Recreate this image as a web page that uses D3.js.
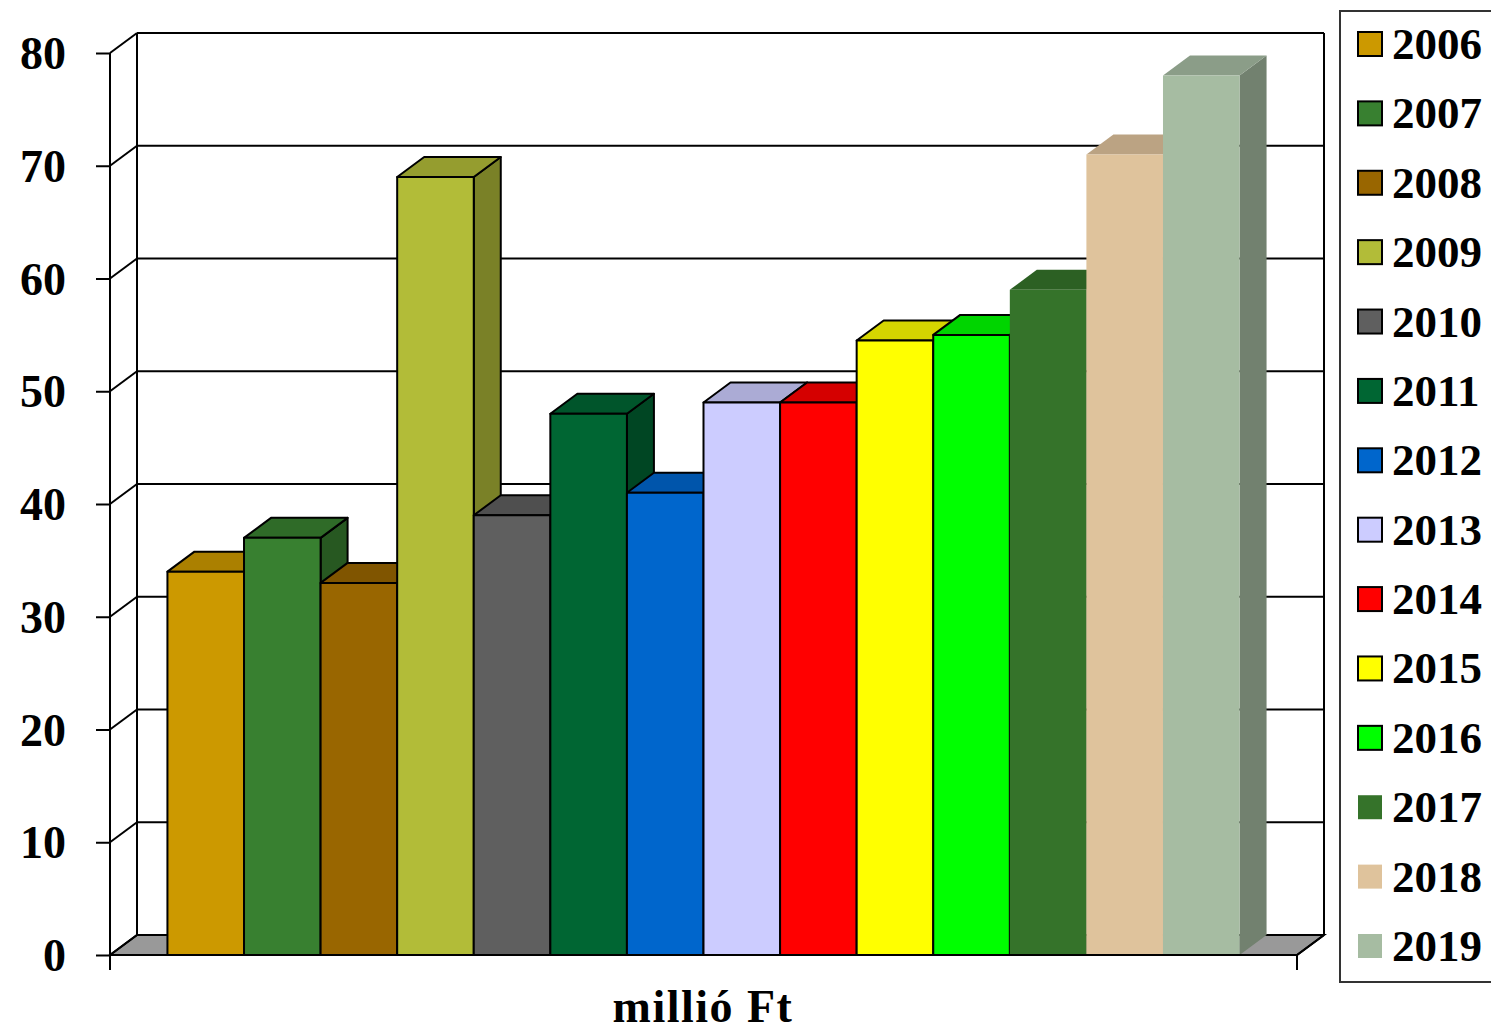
<!DOCTYPE html>
<html>
<head>
<meta charset="utf-8">
<script src="https://cdn.jsdelivr.net/npm/d3@7"></script>
<style>
  html, body { margin: 0; padding: 0; background: #fff; }
  svg { display: block; font-family: "Liberation Serif", "DejaVu Serif", serif; font-weight: bold; }
</style>
</head>
<body>
<svg id="chart" width="1491" height="1035"></svg>
<script>
// --- DATA ---
const years = ["2006", "2007", "2008", "2009", "2010", "2011", "2012", "2013", "2014", "2015", "2016", "2017", "2018", "2019"];
const values = [34, 37, 33, 69, 39, 48, 41, 49, 49, 54.5, 55, 59, 71, 78];
const colors = ["#cc9900", "#388030", "#996600", "#b2bc38", "#5f5f5f", "#006633", "#0066cc",
                "#ccccff", "#ff0000", "#ffff00", "#00ff00", "#35732a", "#dfc39c", "#a6bca2"];
const outlined = [true, true, true, true, true, true, true, true, true, true, true, false, false, false];
const yTicks = [0, 10, 20, 30, 40, 50, 60, 70, 80];
const axisTitle = "millió Ft";

// --- LAYOUT ---
const svg = d3.select("#chart");
const frontLeft = 110, frontRight = 1297, floorY = 955, topY = 53;
const dx = 27, dy = -20;   // depth offset for the 3D look

const x = d3.scaleBand()
    .domain(years)
    .range([frontLeft, frontRight])
    .paddingInner(0)
    .paddingOuter(0.75);

const y = d3.scaleLinear()
    .domain([0, 80])
    .range([floorY, topY]);

const shade = (c, k) => d3.color(c).darker(k).formatHex();

// back wall + floor
const walls = svg.append("g").attr("stroke", "#000").attr("stroke-width", 2);

walls.append("path")
    .attr("fill", "#999")
    .attr("stroke", "#000")
    .attr("d", `M${frontLeft},${floorY}L${frontLeft + dx},${floorY + dy}H${frontRight + dx}L${frontRight},${floorY}Z`);

// gridlines on the back wall and the side wall diagonals
walls.selectAll("line.grid")
    .data(yTicks.slice(1))
    .join("line")
    .attr("class", "grid")
    .attr("x1", frontLeft + dx).attr("x2", frontRight + dx)
    .attr("y1", d => y(d) + dy).attr("y2", d => y(d) + dy);

walls.selectAll("line.diag")
    .data(yTicks)
    .join("line")
    .attr("class", "diag")
    .attr("x1", frontLeft).attr("x2", frontLeft + dx)
    .attr("y1", d => y(d)).attr("y2", d => y(d) + dy);

walls.append("line")
    .attr("x1", frontLeft + dx).attr("x2", frontLeft + dx)
    .attr("y1", y(80) + dy).attr("y2", y(0) + dy);
walls.append("line")
    .attr("x1", frontRight + dx).attr("x2", frontRight + dx)
    .attr("y1", y(80) + dy).attr("y2", y(0) + dy);

// --- BARS (drawn left to right so neighbours overlap correctly) ---
const bars = svg.append("g");
years.forEach((yr, i) => {
    const x0 = x(yr), w = x.bandwidth(), yt = y(values[i]), c = colors[i];
    const g = bars.append("g")
        .attr("stroke", outlined[i] ? "#000" : "none")
        .attr("stroke-width", 2)
        .attr("stroke-linejoin", "round");
    // side
    g.append("path")
        .attr("fill", shade(c, 1.05))
        .attr("d", `M${x0 + w},${yt}L${x0 + w + dx},${yt + dy}V${floorY + dy}L${x0 + w},${floorY}Z`);
    // top
    g.append("path")
        .attr("fill", shade(c, 0.5))
        .attr("d", `M${x0},${yt}L${x0 + dx},${yt + dy}H${x0 + w + dx}L${x0 + w},${yt}Z`);
    // front
    g.append("rect")
        .attr("x", x0).attr("y", yt)
        .attr("width", w).attr("height", floorY - yt)
        .attr("fill", c);
});

// front floor edge and tick marks at the ends
const front = svg.append("g").attr("stroke", "#000").attr("stroke-width", 2);
front.append("line").attr("x1", frontLeft).attr("x2", frontRight).attr("y1", floorY).attr("y2", floorY);
front.append("line").attr("x1", frontRight).attr("x2", frontRight).attr("y1", floorY).attr("y2", floorY + 15);
front.append("line").attr("x1", frontRight).attr("x2", frontRight + dx).attr("y1", floorY).attr("y2", floorY + dy);

// --- Y AXIS ---
svg.append("g")
    .attr("transform", `translate(${frontLeft},0)`)
    .call(d3.axisLeft(y).tickValues(yTicks).tickSize(14).tickSizeOuter(0).tickPadding(30))
    .call(g => g.select(".domain").attr("d", `M0,${topY}V${floorY + 15}`).attr("stroke-width", 2))
    .call(g => g.selectAll(".tick line").attr("stroke-width", 2))
    .call(g => g.selectAll(".tick text")
        .attr("font-family", "Liberation Serif, DejaVu Serif, serif")
        .attr("font-weight", "bold")
        .attr("font-size", 46)
        .attr("dy", "0.34em")
        .attr("fill", "#000"));

// axis title
svg.append("text")
    .attr("x", 703).attr("y", 1022)
    .attr("text-anchor", "middle")
    .attr("font-size", 46)
    .attr("letter-spacing", 1.5)
    .text(axisTitle);

// --- LEGEND ---
const legend = svg.append("g");
legend.append("rect")
    .attr("x", 1340).attr("y", 11)
    .attr("width", 170).attr("height", 971)
    .attr("fill", "#fff").attr("stroke", "#333").attr("stroke-width", 2);

const ly = d3.scalePoint().domain(years).range([44, 946]);
const item = legend.selectAll("g.item")
    .data(years)
    .join("g")
    .attr("class", "item")
    .attr("transform", d => `translate(0,${ly(d)})`);

item.append("rect")
    .attr("x", 1358).attr("y", -12)
    .attr("width", 24).attr("height", 24)
    .attr("fill", (d, i) => colors[i])
    .attr("stroke", (d, i) => outlined[i] ? "#000" : "none")
    .attr("stroke-width", 2);

item.append("text")
    .attr("x", 1392).attr("y", 15)
    .attr("font-size", 45)
    .text(d => d);
</script>
</body>
</html>
